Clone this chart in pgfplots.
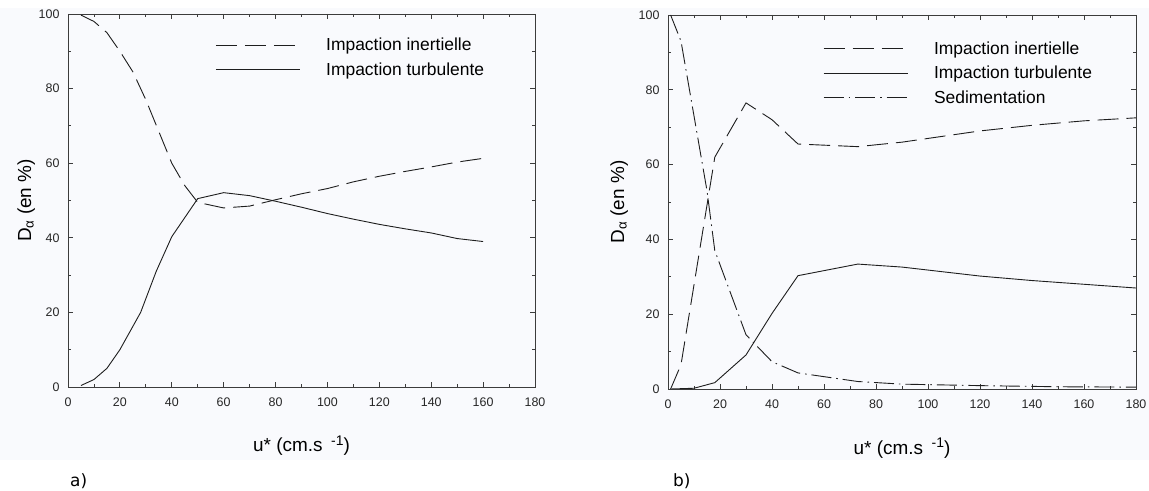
\documentclass[border=0pt]{standalone}
\usepackage{fontspec}
\setmainfont{Liberation Sans}
\newfontfamily\dejavu{DejaVu Sans}
\usepackage{pgfplots}
\pgfplotsset{compat=1.18}

\definecolor{bgc}{RGB}{249,250,253}
\definecolor{axc}{RGB}{60,60,60}
\definecolor{lnc}{RGB}{30,30,30}

\pgfplotsset{
 myaxis/.style={
  scale only axis,
  xmin=0,xmax=180,ymin=0,ymax=100,
  xtick={0,20,...,180}, ytick={0,20,...,100},
  minor x tick num=1, minor y tick num=1,
  tick align=inside,
  major tick length=5bp, minor tick length=3bp,
  axis line style={axc, line width=0.9bp},
  tick style={axc, line width=0.8bp},
  /pgf/number format/assume math mode=true,
  ticklabel style={font=\fontsize{12.5}{12.5}\selectfont, text=black!85},
  xticklabel style={yshift=-7bp},
  yticklabel style={xshift=-5bp},
  label style={font=\fontsize{19}{19}\selectfont},
  xlabel={u* (cm.s\hspace{0.45em}\raisebox{6.5bp}{\fontsize{14}{14}\selectfont -1})},
  ylabel={D\textsubscript{α} (en \%)},
  xlabel style={at={(axis description cs:0.5,-0.174)}, anchor=base},
  legend cell align=left,
  legend style={draw=none, fill=none, font=\fontsize{17.5}{17.5}\selectfont,
    row sep=10.5bp, column sep=26bp, inner sep=0pt, nodes={inner sep=0pt}},
  legend image code/.code={\draw[#1] (0bp,0bp) -- (84bp,0bp);},
 },
 dashA/.style={lnc, line width=0.9bp, dash pattern=on 21bp off 8bp},
 solidA/.style={lnc, line width=0.9bp},
 dotA/.style={lnc, line width=0.9bp, dash pattern=on 20bp off 5bp on 1.5bp off 5bp},
}

\begin{document}
\begin{tikzpicture}
\path[use as bounding box] (0,0) rectangle (1149bp,491bp);
\fill[bgc] (0,31bp) rectangle (1149bp,483bp);

\begin{axis}[myaxis, at={(68bp,104bp)}, anchor=south west,
  width=467bp, height=373bp,
  ylabel style={at={(axis description cs:-0.079,0.5)}, anchor=base},
  legend style={at={(0.315,0.936)}, anchor=north west}]
\addplot[dashA] coordinates {(5,99.7)(10,98)(15,95)(20,90)(25,84.5)(30,77)(35,68.5)(40,60)(45,54)(50,49.5)(60,48)(70,48.5)(80,50.2)(90,51.8)(100,53.2)(110,55)(120,56.5)(130,57.8)(140,59)(150,60.3)(160,61.3)};
\addlegendentry{Impaction inertielle}
\addplot[solidA] coordinates {(5,0.4)(10,2)(15,5)(20,10)(28,20)(34,31)(40,40.3)(50,50.5)(60,52.1)(70,51.3)(80,49.8)(90,48.2)(100,46.5)(110,45)(120,43.6)(130,42.4)(140,41.3)(150,39.8)(160,39)};
\addlegendentry{Impaction turbulente}
\end{axis}

\begin{axis}[myaxis, at={(668bp,102bp)}, anchor=south west,
  width=468bp, height=374bp,
  ylabel style={at={(axis description cs:-0.094,0.5)}, anchor=base},
  legend style={at={(0.331,0.930)}, anchor=north west}]
\addplot[dashA] coordinates {(1,0)(5,6.5)(18,62)(30,76.5)(40,72)(50,65.5)(73,64.8)(90,66)(105,67.5)(120,69)(140,70.5)(160,71.7)(180,72.5)};
\addlegendentry{Impaction inertielle}
\addplot[solidA] coordinates {(1,0)(10,0.2)(18,1.7)(30,9.1)(40,20.2)(50,30.3)(73,33.4)(90,32.6)(105,31.4)(120,30.2)(140,29)(160,28)(180,27)};
\addlegendentry{Impaction turbulente}
\addplot[dotA] coordinates {(1,100)(5,93)(10,73)(15,53)(18,37)(30,14.5)(40,7.3)(50,4.3)(73,2)(90,1.3)(120,0.9)(150,0.6)(180,0.5)};
\addlegendentry{Sedimentation}
\end{axis}

\node[anchor=base west, font=\dejavu\fontsize{17}{17}\selectfont, inner sep=0pt] at (70bp,5bp) {a)};
\node[anchor=base west, font=\dejavu\fontsize{17}{17}\selectfont, inner sep=0pt] at (673bp,5bp) {b)};
\end{tikzpicture}
\end{document}
